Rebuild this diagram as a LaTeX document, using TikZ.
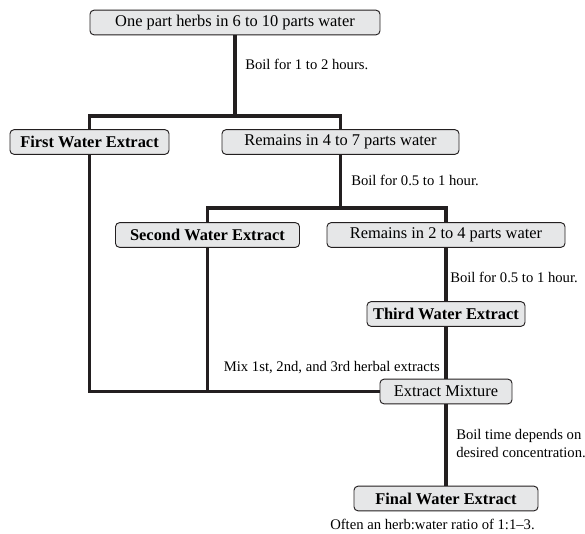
\documentclass[tikz,border=0pt]{standalone}
\usepackage{fontspec}
\setmainfont{Liberation Serif}
\usetikzlibrary{positioning}
\definecolor{boxgray}{HTML}{E6E7E8}
\definecolor{inkline}{HTML}{231F20}
\tikzset{
    stage-box/.style = {draw=inkline, fill=boxgray, line width=0.7pt, rectangle, rounded corners=3pt, minimum height=18.5pt, inner sep=0pt, font=\fontsize{12.3}{14}\selectfont},
    stage-box-bold/.style = {stage-box, font=\fontsize{12.3}{14}\selectfont\bfseries},
    flow-line/.style = {draw=inkline, line width=2.6pt},
    step-note/.style = {font=\fontsize{11}{13}\selectfont, inner sep=0pt, anchor=west, align=left},
}

\begin{document}
\begin{tikzpicture}[x=0.75pt, y=-0.75pt]
\useasboundingbox (0,0) rectangle (585,533);
% stages
\node [stage-box, minimum width=217.5pt] (herbs) at (235,22.5) {One part herbs in 6 to 10 parts water};
\node [stage-box-bold, minimum width=119.25pt] (first) at (89.5,142) {First Water Extract};
\node [stage-box, minimum width=177.75pt] (remains-a) at (340.5,142) {Remains in 4 to 7 parts water};
\node [stage-box-bold, minimum width=138pt] (second) at (207.5,235) {Second Water Extract};
\node [stage-box, minimum width=178.5pt] (remains-b) at (446,235) {Remains in 2 to 4 parts water};
\node [stage-box-bold, minimum width=118.5pt] (third) at (446,314) {Third Water Extract};
\node [stage-box, minimum width=99pt] (mixture) at (446,391.5) {Extract Mixture};
\node [stage-box-bold, minimum width=138pt] (final) at (446,498.5) {Final Water Extract};

% junctions
\coordinate (split-a) at (235,116);
\coordinate (split-b) at (340.5,208);

% connectors
\draw [flow-line] (herbs.south) -- (split-a);
\draw [flow-line] (first.north) |- (split-a) -| (remains-a.north);
\draw [flow-line] (remains-a.south) -- (split-b);
\draw [flow-line] (second.north) |- (split-b) -| (remains-b.north);
\draw [flow-line] (remains-b.south) -- (third.north);
\draw [flow-line] (third.south) -- (mixture.north);
\draw [flow-line] (first.south) |- (mixture.west);
\draw [flow-line] (second.south) -- (second.south |- mixture.west);
\draw [flow-line] (mixture.south) -- (final.north);

% notes
\node [step-note] (note-a) at (245,64) {Boil for 1 to 2 hours.};
\node [step-note] (note-b) at (351,180) {Boil for 0.5 to 1 hour.};
\node [step-note] (note-c) at (450,277) {Boil for 0.5 to 1 hour.};
\node [step-note, anchor=east] (note-mix) at (440,368) {Mix 1st, 2nd, and 3rd herbal extracts};
\node [step-note] (note-d) at (456,443.5) {Boil time depends on\\desired concentration.};
\node [step-note] (note-ratio) at (330,524) {Often an herb:water ratio of 1:1--3.};
\end{tikzpicture}
\end{document}
